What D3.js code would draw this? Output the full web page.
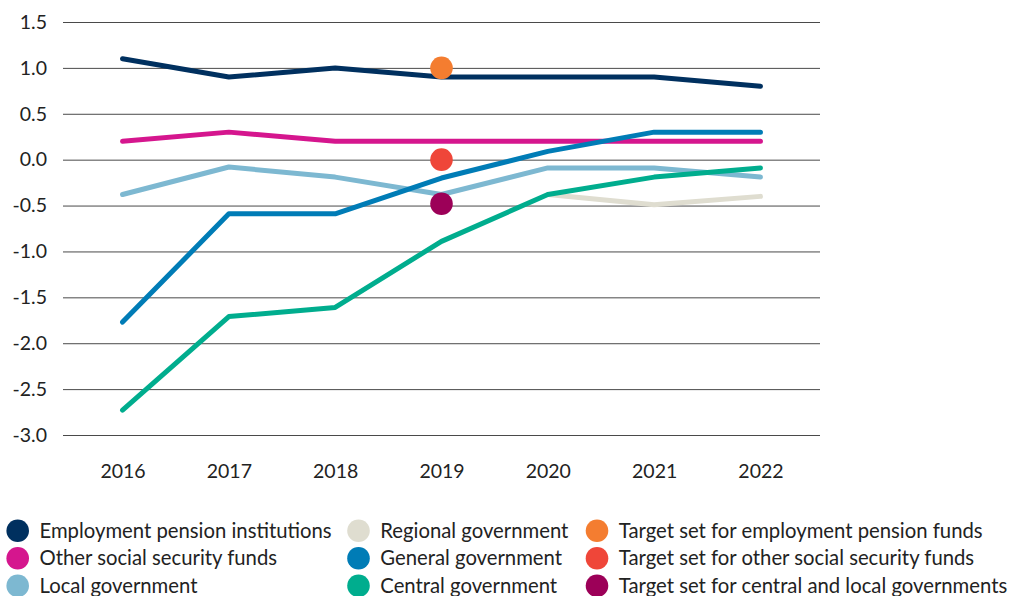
<!DOCTYPE html>
<html><head><meta charset="utf-8">
<script src="https://cdn.jsdelivr.net/npm/d3@7"></script>
<style>
html,body{margin:0;padding:0;background:#fff;}
text{font-family:Lato,"Open Sans",sans-serif;fill:#222;}
</style></head>
<body>
<svg id="chart" width="1015" height="596"></svg>
<script>
const years = [2016, 2017, 2018, 2019, 2020, 2021, 2022];
const yTicks = [1.5, 1.0, 0.5, 0.0, -0.5, -1.0, -1.5, -2.0, -2.5, -3.0];

const employmentPension = [1.1, 0.9, 1.0, 0.9, 0.9, 0.9, 0.8];
const otherSocialSecurity = [0.2, 0.3, 0.2, 0.2, 0.2, 0.2, 0.2];
const localGov = [-0.38, -0.08, -0.19, -0.38, -0.09, -0.09, -0.19];
const regionalGov = [null, null, null, null, -0.38, -0.49, -0.4];
const generalGov = [-1.77, -0.59, -0.59, -0.2, 0.09, 0.3, 0.3];
const centralGov = [-2.73, -1.71, -1.61, -0.89, -0.38, -0.19, -0.09];

const targetYear = 2019;
const targetEmployment = 1.0;
const targetOtherSocial = 0.0;
const targetCentralLocal = -0.48;

const colors = {
  emp: "#00305f", oth: "#d5168e", loc: "#7db8d1", reg: "#dfddd0",
  gen: "#007cb6", cen: "#00ad8e", tEmp: "#f47d30", tOth: "#ef4639", tCL: "#9c0058"
};

const series = [
  {key:"emp", values: employmentPension},
  {key:"oth", values: otherSocialSecurity},
  {key:"loc", values: localGov},
  {key:"reg", values: regionalGov},
  {key:"gen", values: generalGov},
  {key:"cen", values: centralGov}
];
const targets = [
  {key:"tEmp", value: targetEmployment},
  {key:"tOth", value: targetOtherSocial},
  {key:"tCL", value: targetCentralLocal}
];

const legendCols = [
  [["emp","Employment pension institutions"],["oth","Other social security funds"],["loc","Local government"]],
  [["reg","Regional government"],["gen","General government"],["cen","Central government"]],
  [["tEmp","Target set for employment pension funds"],["tOth","Target set for other social security funds"],["tCL","Target set for central and local governments"]]
];

const svg = d3.select("#chart");
const x = d3.scalePoint().domain(years).range([63, 820]).padding(0.56);
const y = d3.scaleLinear().domain([-3.0, 1.5]).range([435, 22]);

// grid
const yAxis = d3.axisLeft(y).tickValues(yTicks).tickSize(-(820-63)).tickPadding(16)
  .tickFormat(d => d.toFixed(1));
const gy = svg.append("g").attr("transform","translate(63,0)").call(yAxis);
gy.select(".domain").remove();
gy.selectAll(".tick line").attr("stroke","#4a4a4a").attr("stroke-width",1);
gy.selectAll(".tick text").attr("font-size",19.5).attr("fill","#222")
  .style("font-family","Lato, sans-serif");

const xAxis = d3.axisBottom(x).tickSize(0).tickPadding(0);
const gx = svg.append("g").attr("transform","translate(0,471)").call(xAxis);
gx.select(".domain").remove();
gx.selectAll(".tick text").attr("font-size",19.5).attr("fill","#222").attr("dy","0.35em")
  .style("font-family","Lato, sans-serif");

const line = d3.line().defined(d => d.v !== null).x(d => x(d.year)).y(d => y(d.v));
series.forEach(s => {
  svg.append("path")
    .datum(years.map((yr,i) => ({year: yr, v: s.values[i]})))
    .attr("d", line).attr("fill","none").attr("stroke", colors[s.key])
    .attr("stroke-width",5).attr("stroke-linecap","round").attr("stroke-linejoin","round");
});

targets.forEach(t => {
  svg.append("circle").attr("cx", x(targetYear)).attr("cy", y(t.value)).attr("r", 11.3)
    .attr("fill", colors[t.key]);
});

// legend
const colX = [17.7, 358.5, 597];
const rowY = [530.7, 558.3, 585.8];
legendCols.forEach((col, ci) => {
  col.forEach((item, ri) => {
    svg.append("circle").attr("cx", colX[ci]).attr("cy", rowY[ri]).attr("r", 11.3).attr("fill", colors[item[0]]);
    svg.append("text").attr("x", colX[ci] + 21.8).attr("y", rowY[ri]).attr("dy","0.35em")
      .attr("font-size",20.3).text(item[1]);
  });
});
</script>
</body></html>
